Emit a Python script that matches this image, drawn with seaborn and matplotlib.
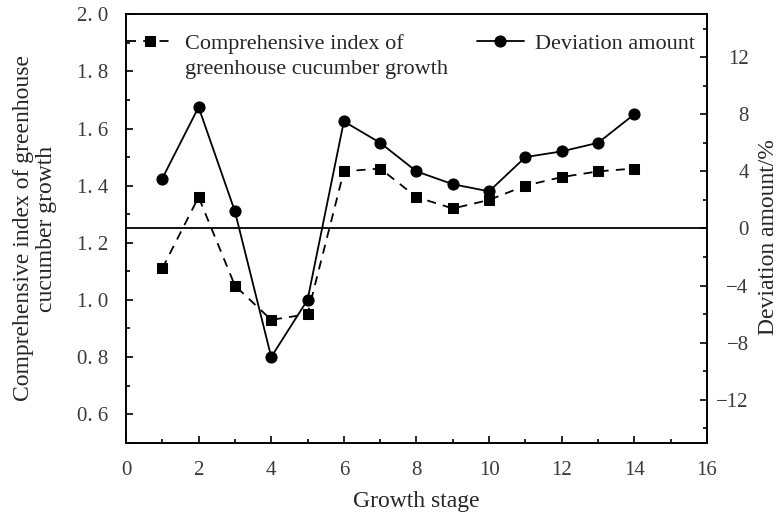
import matplotlib
matplotlib.use("Agg")
import matplotlib.pyplot as plt
from matplotlib.ticker import MultipleLocator, FuncFormatter
import seaborn as sns
import pandas as pd

# Growth stages and the two measured series
stages = [1, 2, 3, 4, 5, 6, 7, 8, 9, 10, 11, 12, 13, 14]
growth_index = [1.11, 1.36, 1.05, 0.93, 0.95, 1.45, 1.46, 1.36, 1.32, 1.35, 1.40, 1.43, 1.45, 1.46]
deviation_pct = [3.5, 8.5, 1.2, -9.0, -5.0, 7.5, 6.0, 4.0, 3.1, 2.6, 5.0, 5.4, 6.0, 8.0]

index_label_lines = ["Comprehensive index of", "greenhouse cucumber growth"]
deviation_label = "Deviation amount"

df = pd.DataFrame({"stage": stages, "index": growth_index, "deviation": deviation_pct})

sns.set_style("ticks")
plt.rcParams["font.family"] = ["Liberation Serif", "DejaVu Serif"]
plt.rcParams["axes.linewidth"] = 1.2

fig = plt.figure(figsize=(7.8, 5.2), dpi=100)
ax = fig.add_axes([0.1615, 0.1487, 0.7449, 0.8238])
ax2 = ax.twinx()

sns.lineplot(data=df, x="stage", y="index", ax=ax, color="black", marker="s",
             markersize=7, linestyle="--", linewidth=1.3, markeredgecolor="black",
             label=index_label_lines[0], legend=False)
sns.lineplot(data=df, x="stage", y="deviation", ax=ax2, color="black", marker="o",
             markersize=8, linestyle="-", linewidth=1.3, markeredgecolor="black",
             label=deviation_label, legend=False)
ax.lines[0].set_linestyle((0, (5, 4)))
ax2.axhline(0, color="black", linewidth=1.3, zorder=1)

ax.set_xlim(0, 16)
ax.set_ylim(0.5, 2.0)
ax2.set_ylim(-15, 15)

ax.xaxis.set_major_locator(MultipleLocator(2))
ax.xaxis.set_minor_locator(MultipleLocator(1))
ax.yaxis.set_major_locator(MultipleLocator(0.2))
ax.yaxis.set_minor_locator(MultipleLocator(0.1))
ax2.set_yticks([-12, -8, -4, 0, 4, 8, 12])
ax2.yaxis.set_minor_locator(MultipleLocator(2))

ax.yaxis.set_major_formatter(FuncFormatter(lambda v, p: f"{v:.1f}".replace(".", ". ")))
ax2.yaxis.set_major_formatter(FuncFormatter(lambda v, p: f"{int(round(v))}".replace("-", "\u2212")))

for a in (ax, ax2):
    a.tick_params(which="both", direction="in", width=1.2, labelsize=15, colors="black",
                  labelcolor="#3a3a3a")
    a.tick_params(which="major", length=5)
    a.tick_params(which="minor", length=3)
ax.tick_params(axis="y", which="both", right=False, pad=13)
ax.tick_params(axis="x", which="both", top=False, pad=13)
ax2.tick_params(axis="y", which="both", left=False, pad=30)
for t in ax2.get_yticklabels():
    t.set_horizontalalignment("right")

ax.set_xlabel("Growth stage", fontsize=17, labelpad=8)
ax.set_ylabel("Comprehensive index of greenhouse\ncucumber growth", fontsize=17,
              labelpad=14, linespacing=1.1)
ax2.set_ylabel("Deviation amount/%", fontsize=17)
ax2.yaxis.set_label_coords(1.087, 0.48)

for a in (ax, ax2):
    for s in a.spines.values():
        s.set_color("black")
        s.set_linewidth(1.2)

h1, l1 = ax.get_legend_handles_labels()
h2, l2 = ax2.get_legend_handles_labels()
leg = ax2.legend(h1 + h2, l1 + l2, ncol=2, loc="upper left", bbox_to_anchor=(0.002, 0.956),
                 frameon=False, fontsize=16, handlelength=2.1, handletextpad=0.5,
                 columnspacing=3.3, borderpad=0, borderaxespad=0)

# second line of the first legend entry, aligned under its first line
fig.canvas.draw()
bb = leg.get_texts()[0].get_window_extent()
fig.text(bb.x0 / fig.dpi / fig.get_figwidth(),
         ((bb.y0 + bb.y1) / 2 - 26) / fig.dpi / fig.get_figheight(),
         index_label_lines[1], fontsize=16, va="center", ha="left")

fig.savefig("out.png", dpi=100)
